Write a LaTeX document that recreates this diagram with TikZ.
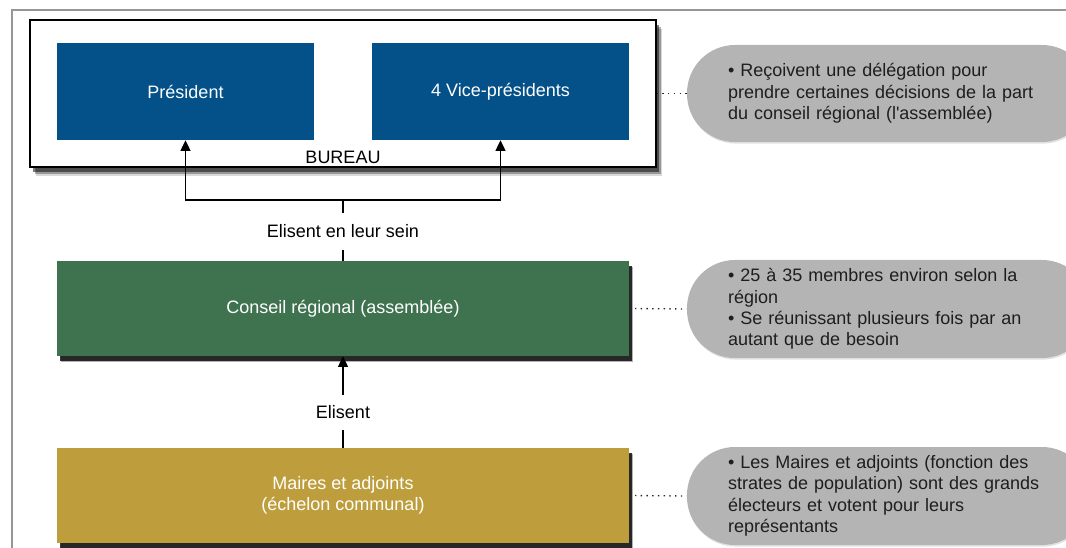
\documentclass[tikz,border=0pt]{standalone}
\usepackage{fontspec}
\setmainfont{Liberation Sans}
\usepackage{xcolor}
\usetikzlibrary{positioning}
\usetikzlibrary{arrows.meta}
\usetikzlibrary{shadows}

\definecolor{bleubureau}{RGB}{4,80,136}
\definecolor{vertconseil}{RGB}{63,115,80}
\definecolor{orcommune}{RGB}{190,158,60}
\definecolor{grisnote}{RGB}{180,180,180}
\definecolor{griscadre}{RGB}{150,150,150}
\definecolor{textenote}{RGB}{30,30,30}

\begin{document}
\begin{tikzpicture}[x=0.75pt,y=-0.75pt,
   font=\fontsize{13.5}{16.1}\selectfont,
   bureaubox/.style={rectangle, draw=black, line width=1pt, fill=white,
      minimum width=469.5pt, minimum height=110.25pt, inner sep=0pt,
      drop shadow={shadow xshift=2.5pt, shadow yshift=-3.5pt, opacity=.5, fill=black},
      drop shadow={shadow xshift=3.5pt, shadow yshift=-5pt, opacity=.3, fill=black},
      drop shadow={shadow xshift=4.5pt, shadow yshift=-6.5pt, opacity=.15, fill=black}},
   bleu/.style={rectangle, fill=bleubureau, text=white, inner sep=0pt,
      minimum width=192.75pt, minimum height=72.75pt},
   boite/.style={rectangle, text=white, align=center, inner sep=0pt,
      minimum width=429pt, minimum height=71.25pt,
      drop shadow={shadow xshift=2.5pt, shadow yshift=-3.5pt, opacity=1, fill=black!78},
      drop shadow={shadow xshift=3.2pt, shadow yshift=-4.5pt, opacity=.3, fill=black}},
   note/.style={rectangle, rounded corners=36pt, fill=grisnote, text=textenote,
      align=left, text width=240.75pt, inner xsep=30.75pt, inner ysep=0pt,
      minimum height=72.75pt,
      drop shadow={shadow xshift=0.6pt, shadow yshift=-1.2pt, opacity=.12, fill=black}},
   etiq/.style={rectangle, inner xsep=2pt, inner ysep=0pt},
   trait/.style={draw=black, line width=1pt},
   fleche/.style={trait, -{Triangle[length=8pt, width=7.5pt]}},
   pointille/.style={draw=black!85, line width=1pt, dash pattern=on 1pt off 3.3pt}]

\useasboundingbox (0,0) rectangle (1066,548);
\clip (0,0) rectangle (1066,548);

% cadre
\draw[griscadre, line width=1pt] (12,560) -- (12,10) -- (1080,10);

% bureau
\node[bureaubox] (bureau) at (343,93.5) {};
\node[bleu] (pres) at (185.5,91.5) {Président};
\node[bleu] (vice) at (500.5,91.5) {4 Vice-présidents};
\node (bureaulbl) at (343,157) {BUREAU};

% niveaux
\node[boite, fill=vertconseil] (conseil) at (343,308.5) {Conseil régional (assemblée)};
\node[boite, fill=orcommune] (maires) at (343,495.5) {Maires et adjoints\\(échelon communal)};

% notes
\node[note] (note1) at (888.5,93.5) {• Reçoivent une délégation pour\\prendre certaines décisions de la part\\du conseil régional (l\textquotesingle assemblée)};
\node[note, minimum height=73.5pt] (note2) at (888.5,309) {• 25 à 35 membres environ selon la\\région\\• Se réunissant plusieurs fois par an\\autant que de besoin};
\node[note, minimum height=73.5pt] (note3) at (888.5,496) {• Les Maires et adjoints (fonction des\\strates de population) sont des grands\\électeurs et votent pour leurs\\représentants};

% etiquettes
\node[etiq, minimum height=27.75pt] (elu1) at (343,231.5) {Elisent en leur sein};
\node[etiq, minimum height=26.25pt] (elu2) at (343,412.5) {Elisent};
\coordinate (split) at (343,200);

\path[trait] (conseil.north) -- (elu1);
\path[trait] (elu1) -- (split);
\path[fleche] (split) -| (pres.south);
\path[fleche] (split) -| (vice.south);
\path[trait] (maires.north) -- (elu2);
\path[fleche] (elu2) -- (conseil.south);

\path[pointille] (bureau.east) -- (note1.west);
\path[pointille] (conseil.east) -- (note2.west);
\path[pointille] (maires.east) -- (note3.west);
\end{tikzpicture}
\end{document}
